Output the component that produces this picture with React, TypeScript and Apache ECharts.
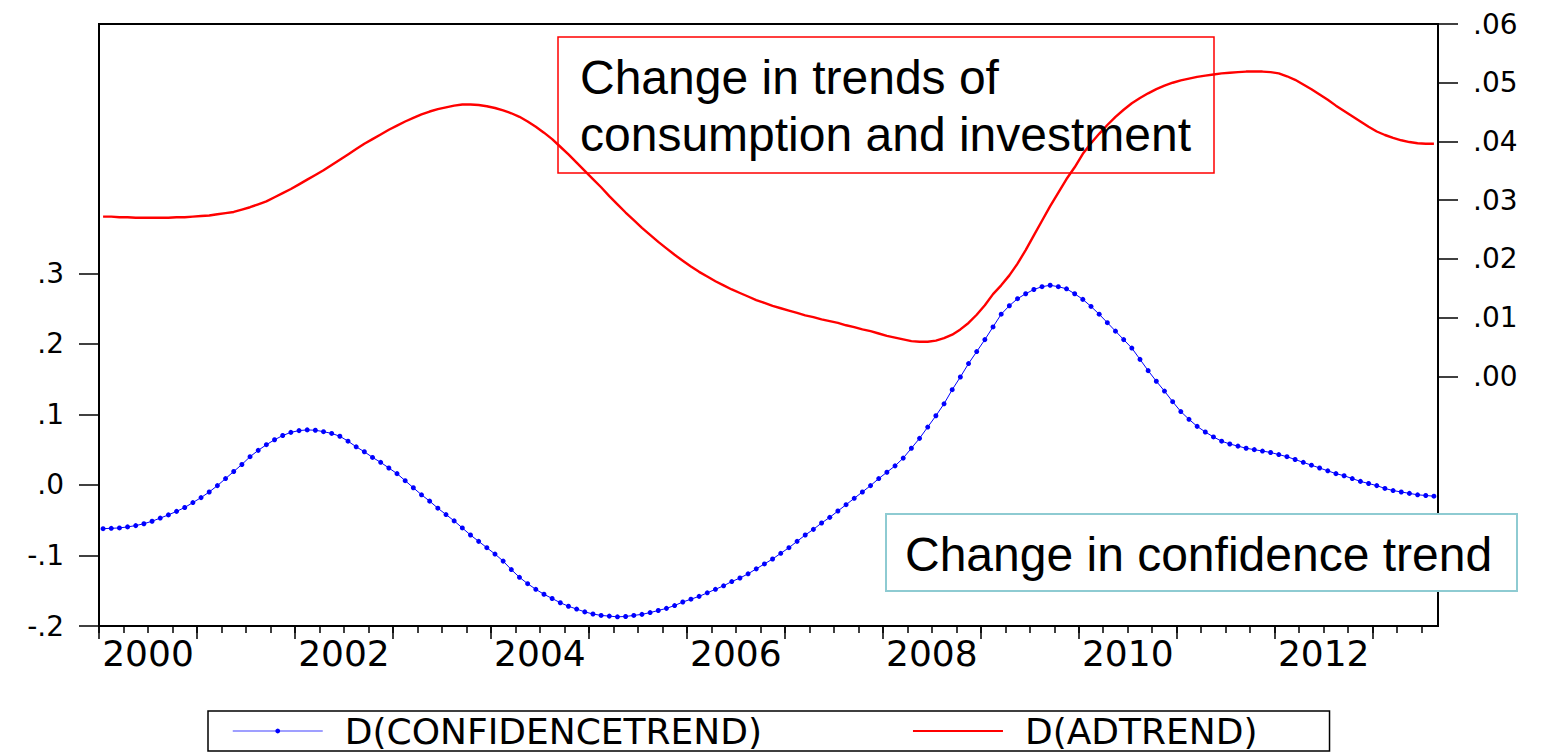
import React, { useEffect, useRef } from 'react';
import * as echarts from 'echarts';

// Monthly observations, 2000M01 .. 2013M08
const START_YEAR = 2000;

const CONFIDENCE_TREND = [
  -0.062, -0.0615, -0.061, -0.0595, -0.0577, -0.055, -0.0515, -0.047, -0.0425, -0.0375, -0.032, -0.025,
  -0.018, -0.010, -0.001, 0.009, 0.019, 0.029, 0.040, 0.049, 0.057, 0.064, 0.070, 0.0745,
  0.077, 0.078, 0.0775, 0.0755, 0.073, 0.069, 0.062, 0.054, 0.047, 0.039, 0.032, 0.024,
  0.016, 0.006, -0.004, -0.014, -0.023, -0.033, -0.042, -0.051, -0.061, -0.071, -0.080, -0.089,
  -0.098, -0.108, -0.120, -0.131, -0.140, -0.148, -0.155, -0.161, -0.167, -0.172, -0.176, -0.180,
  -0.183, -0.185, -0.186, -0.187, -0.1865, -0.185, -0.1835, -0.181, -0.178, -0.175, -0.171, -0.166,
  -0.162, -0.158, -0.153, -0.148, -0.143, -0.137, -0.132, -0.126, -0.119, -0.112, -0.105, -0.097,
  -0.089, -0.080, -0.071, -0.063, -0.054, -0.046, -0.037, -0.028, -0.019, -0.010, -0.001, 0.009,
  0.018, 0.027, 0.038, 0.052, 0.066, 0.082, 0.098, 0.115, 0.135, 0.153, 0.172, 0.189,
  0.206, 0.224, 0.242, 0.254, 0.264, 0.271, 0.277, 0.281, 0.283, 0.281, 0.278, 0.271,
  0.263, 0.253, 0.242, 0.230, 0.218, 0.206, 0.194, 0.178, 0.162, 0.147, 0.133, 0.118,
  0.104, 0.093, 0.083, 0.075, 0.068, 0.062, 0.058, 0.055, 0.052, 0.050, 0.048, 0.046,
  0.043, 0.040, 0.036, 0.032, 0.028, 0.024, 0.020, 0.016, 0.013, 0.009, 0.005, 0.002,
  -0.001, -0.005, -0.008, -0.010, -0.012, -0.014, -0.015, -0.016,
];

const AD_TREND = [
  0.0272, 0.0272, 0.0271, 0.0271, 0.0270, 0.0270, 0.0270, 0.0270, 0.0270, 0.0271, 0.0271, 0.0272,
  0.0273, 0.0274, 0.0276, 0.0278, 0.0280, 0.0284, 0.0288, 0.0293, 0.0298, 0.0305, 0.0312, 0.0319,
  0.0327, 0.0335, 0.0343, 0.0351, 0.0360, 0.0369, 0.0378, 0.0387, 0.0396, 0.0404, 0.0412, 0.0420,
  0.0427, 0.0434, 0.0440, 0.0446, 0.0451, 0.0455, 0.0458, 0.0461, 0.0463, 0.0463, 0.0462, 0.0460,
  0.0457, 0.0453, 0.0448, 0.0442, 0.0434, 0.0425, 0.0415, 0.0404, 0.0391, 0.0378, 0.0364, 0.0350,
  0.0336, 0.0322, 0.0307, 0.0293, 0.0279, 0.0266, 0.0253, 0.0241, 0.0229, 0.0218, 0.0207, 0.0197,
  0.0187, 0.0178, 0.0170, 0.0162, 0.0155, 0.0148, 0.0142, 0.0136, 0.0130, 0.0125, 0.0120, 0.0116,
  0.0112, 0.0108, 0.0104, 0.0101, 0.0097, 0.0094, 0.0091, 0.0087, 0.0084, 0.0080, 0.0077, 0.0073,
  0.0069, 0.0066, 0.0063, 0.0060, 0.0059, 0.0059, 0.0061, 0.0065, 0.0071, 0.0080, 0.0091, 0.0105,
  0.0121, 0.0140, 0.0155, 0.0172, 0.0192, 0.0215, 0.0240, 0.0265, 0.0290, 0.0313, 0.0336, 0.0356,
  0.0379, 0.0397, 0.0413, 0.0428, 0.0442, 0.0454, 0.0465, 0.0474, 0.0482, 0.0489, 0.0495, 0.0500,
  0.0504, 0.0507, 0.0510, 0.0512, 0.0514, 0.0516, 0.0517, 0.0518, 0.0519, 0.0519, 0.0519, 0.0518,
  0.0516, 0.0511, 0.0505, 0.0497, 0.0489, 0.0480, 0.0471, 0.0461, 0.0452, 0.0443, 0.0434, 0.0425,
  0.0417, 0.0411, 0.0406, 0.0402, 0.0399, 0.0397, 0.0396, 0.0396,
];

const SERIES_NAMES = ['D(CONFIDENCETREND)', 'D(ADTREND)'];

const X_TICK_LABELS = ['2000', '2002', '2004', '2006', '2008', '2010', '2012'];
const LEFT_TICKS = [-0.2, -0.1, 0, 0.1, 0.2, 0.3];
const LEFT_LABELS = ['-.2', '-.1', '.0', '.1', '.2', '.3'];
const RIGHT_TICKS = [0, 0.01, 0.02, 0.03, 0.04, 0.05, 0.06];
const RIGHT_LABELS = ['.00', '.01', '.02', '.03', '.04', '.05', '.06'];

const LEFT_MIN = -0.2;
const LEFT_MAX = 0.6534;
const RIGHT_MIN = -0.0425;
const RIGHT_MAX = 0.06;

const ANNOTATION_TOP = ['Change in trends of', 'consumption and investment'];
const ANNOTATION_BOTTOM = 'Change in confidence trend';

const nearestLabel = (v: number, ticks: number[], labels: string[]) => {
  let best = 0;
  for (let i = 1; i < ticks.length; i++) {
    if (Math.abs(ticks[i] - v) < Math.abs(ticks[best] - v)) best = i;
  }
  return labels[best];
};

export default function App() {
  const ref = useRef<HTMLDivElement>(null);

  useEffect(() => {
    if (!ref.current) return;
    const chart = echarts.init(ref.current, undefined, { renderer: 'svg' });

    const n = CONFIDENCE_TREND.length;
    const xMin = START_YEAR;
    const xMax = START_YEAR + n / 12;
    const toX = (i: number) => START_YEAR + (i + 0.5) / 12;

    const quarterTicks: number[] = [];
    for (let q = 0; xMin + q * 0.25 < xMax - 1e-6; q++) quarterTicks.push(xMin + q * 0.25);
    const yearTicks: number[] = [];
    for (let y = 0; xMin + y < xMax - 1e-6; y++) yearTicks.push(xMin + y);
    const labelPos = X_TICK_LABELS.map((l) => Number(l) + 0.5);

    const tickFont = 'DejaVu Sans';
    const black = '#000';

    chart.setOption({
      animation: false,
      backgroundColor: '#fff',
      grid: {
        left: 99,
        top: 24,
        right: 111,
        bottom: 127,
        show: true,
        borderColor: black,
        borderWidth: 2,
        backgroundColor: 'transparent',
        containLabel: false,
      },
      xAxis: [
        {
          type: 'value',
          min: xMin,
          max: xMax,
          position: 'bottom',
          axisLine: { show: true, onZero: false, lineStyle: { color: black, width: 2 } },
          axisTick: { show: true, customValues: quarterTicks, length: 7, lineStyle: { color: black, width: 1.5 } },
          axisLabel: {
            show: true,
            customValues: labelPos,
            margin: 9,
            fontFamily: tickFont,
            fontSize: 36,
            color: black,
            formatter: (v: number) => nearestLabel(v, labelPos, X_TICK_LABELS),
          },
          splitLine: { show: false },
        },
        {
          type: 'value',
          min: xMin,
          max: xMax,
          position: 'bottom',
          axisLine: { show: false, onZero: false },
          axisTick: { show: true, customValues: yearTicks, length: 13, lineStyle: { color: black, width: 1.5 } },
          axisLabel: { show: false },
          splitLine: { show: false },
        },
      ],
      yAxis: [
        {
          type: 'value',
          position: 'left',
          min: LEFT_MIN,
          max: LEFT_MAX,
          axisLine: { show: true, onZero: false, lineStyle: { color: black, width: 2 } },
          axisTick: { show: true, customValues: LEFT_TICKS, length: 20, lineStyle: { color: black, width: 1.5 } },
          axisLabel: {
            show: true,
            customValues: LEFT_TICKS,
            margin: 35,
            fontFamily: tickFont,
            fontSize: 28,
            color: black,
            formatter: (v: number) => nearestLabel(v, LEFT_TICKS, LEFT_LABELS),
          },
          splitLine: { show: false },
        },
        {
          type: 'value',
          position: 'right',
          min: RIGHT_MIN,
          max: RIGHT_MAX,
          axisLine: { show: true, onZero: false, lineStyle: { color: black, width: 2 } },
          axisTick: { show: true, customValues: RIGHT_TICKS, length: 20, lineStyle: { color: black, width: 1.5 } },
          axisLabel: {
            show: true,
            customValues: RIGHT_TICKS,
            margin: 35,
            fontFamily: tickFont,
            fontSize: 28,
            color: black,
            formatter: (v: number) => nearestLabel(v, RIGHT_TICKS, RIGHT_LABELS),
          },
          splitLine: { show: false },
        },
      ],
      legend: {
        show: true,
        left: 208,
        top: 711,
        orient: 'horizontal',
        padding: [1, 72, 1, 24],
        itemGap: 150,
        itemWidth: 90,
        itemHeight: 6,
        borderColor: black,
        borderWidth: 1.5,
        selectedMode: false,
        textStyle: {
          fontFamily: 'DejaVu Sans',
          fontSize: 36,
          lineHeight: 38,
          color: black,
          padding: [0, 0, 0, 17],
        },
        data: [
          { name: SERIES_NAMES[0], lineStyle: { color: '#7f7fff', width: 1.5 } },
          { name: SERIES_NAMES[1], itemStyle: { opacity: 0 } },
        ],
      },
      series: [
        {
          name: SERIES_NAMES[0],
          type: 'line',
          xAxisIndex: 0,
          yAxisIndex: 0,
          data: CONFIDENCE_TREND.map((v, i) => [toX(i), v]),
          symbol: 'circle',
          symbolSize: 5,
          showSymbol: true,
          lineStyle: { color: '#0000ff', width: 1 },
          itemStyle: { color: '#0000ff', borderWidth: 0 },
          z: 3,
        },
        {
          name: SERIES_NAMES[1],
          type: 'line',
          xAxisIndex: 0,
          yAxisIndex: 1,
          data: AD_TREND.map((v, i) => [toX(i), v]),
          symbol: 'none',
          lineStyle: { color: '#ff0000', width: 2.4 },
          itemStyle: { color: '#ff0000' },
          z: 4,
        },
      ],
      graphic: [
        {
          type: 'rect',
          shape: { x: 558, y: 37, width: 656, height: 136 },
          style: { fill: 'none', stroke: '#ff0000', lineWidth: 1.5 },
          z: 50,
        },
        {
          type: 'text',
          x: 580,
          y: 77.5,
          style: {
            text: ANNOTATION_TOP[0],
            fontFamily: 'Liberation Sans, Arial',
            fontSize: 48,
            fill: black,
            verticalAlign: 'middle',
            align: 'left',
          },
          z: 51,
        },
        {
          type: 'text',
          x: 580,
          y: 134.5,
          style: {
            text: ANNOTATION_TOP[1],
            fontFamily: 'Liberation Sans, Arial',
            fontSize: 48,
            fill: black,
            verticalAlign: 'middle',
            align: 'left',
          },
          z: 51,
        },
        {
          type: 'rect',
          shape: { x: 886, y: 514, width: 631, height: 77 },
          style: { fill: '#ffffff', stroke: '#8ecbd2', lineWidth: 2 },
          z: 50,
        },
        {
          type: 'text',
          x: 905,
          y: 554,
          style: {
            text: ANNOTATION_BOTTOM,
            fontFamily: 'Liberation Sans, Arial',
            fontSize: 48,
            fill: black,
            verticalAlign: 'middle',
            align: 'left',
          },
          z: 51,
        },
      ],
    });

    return () => chart.dispose();
  }, []);

  return (
    <div
      ref={ref}
      style={{ position: 'fixed', left: 0, top: 0, width: 1549, height: 753, background: '#fff' }}
    />
  );
}
